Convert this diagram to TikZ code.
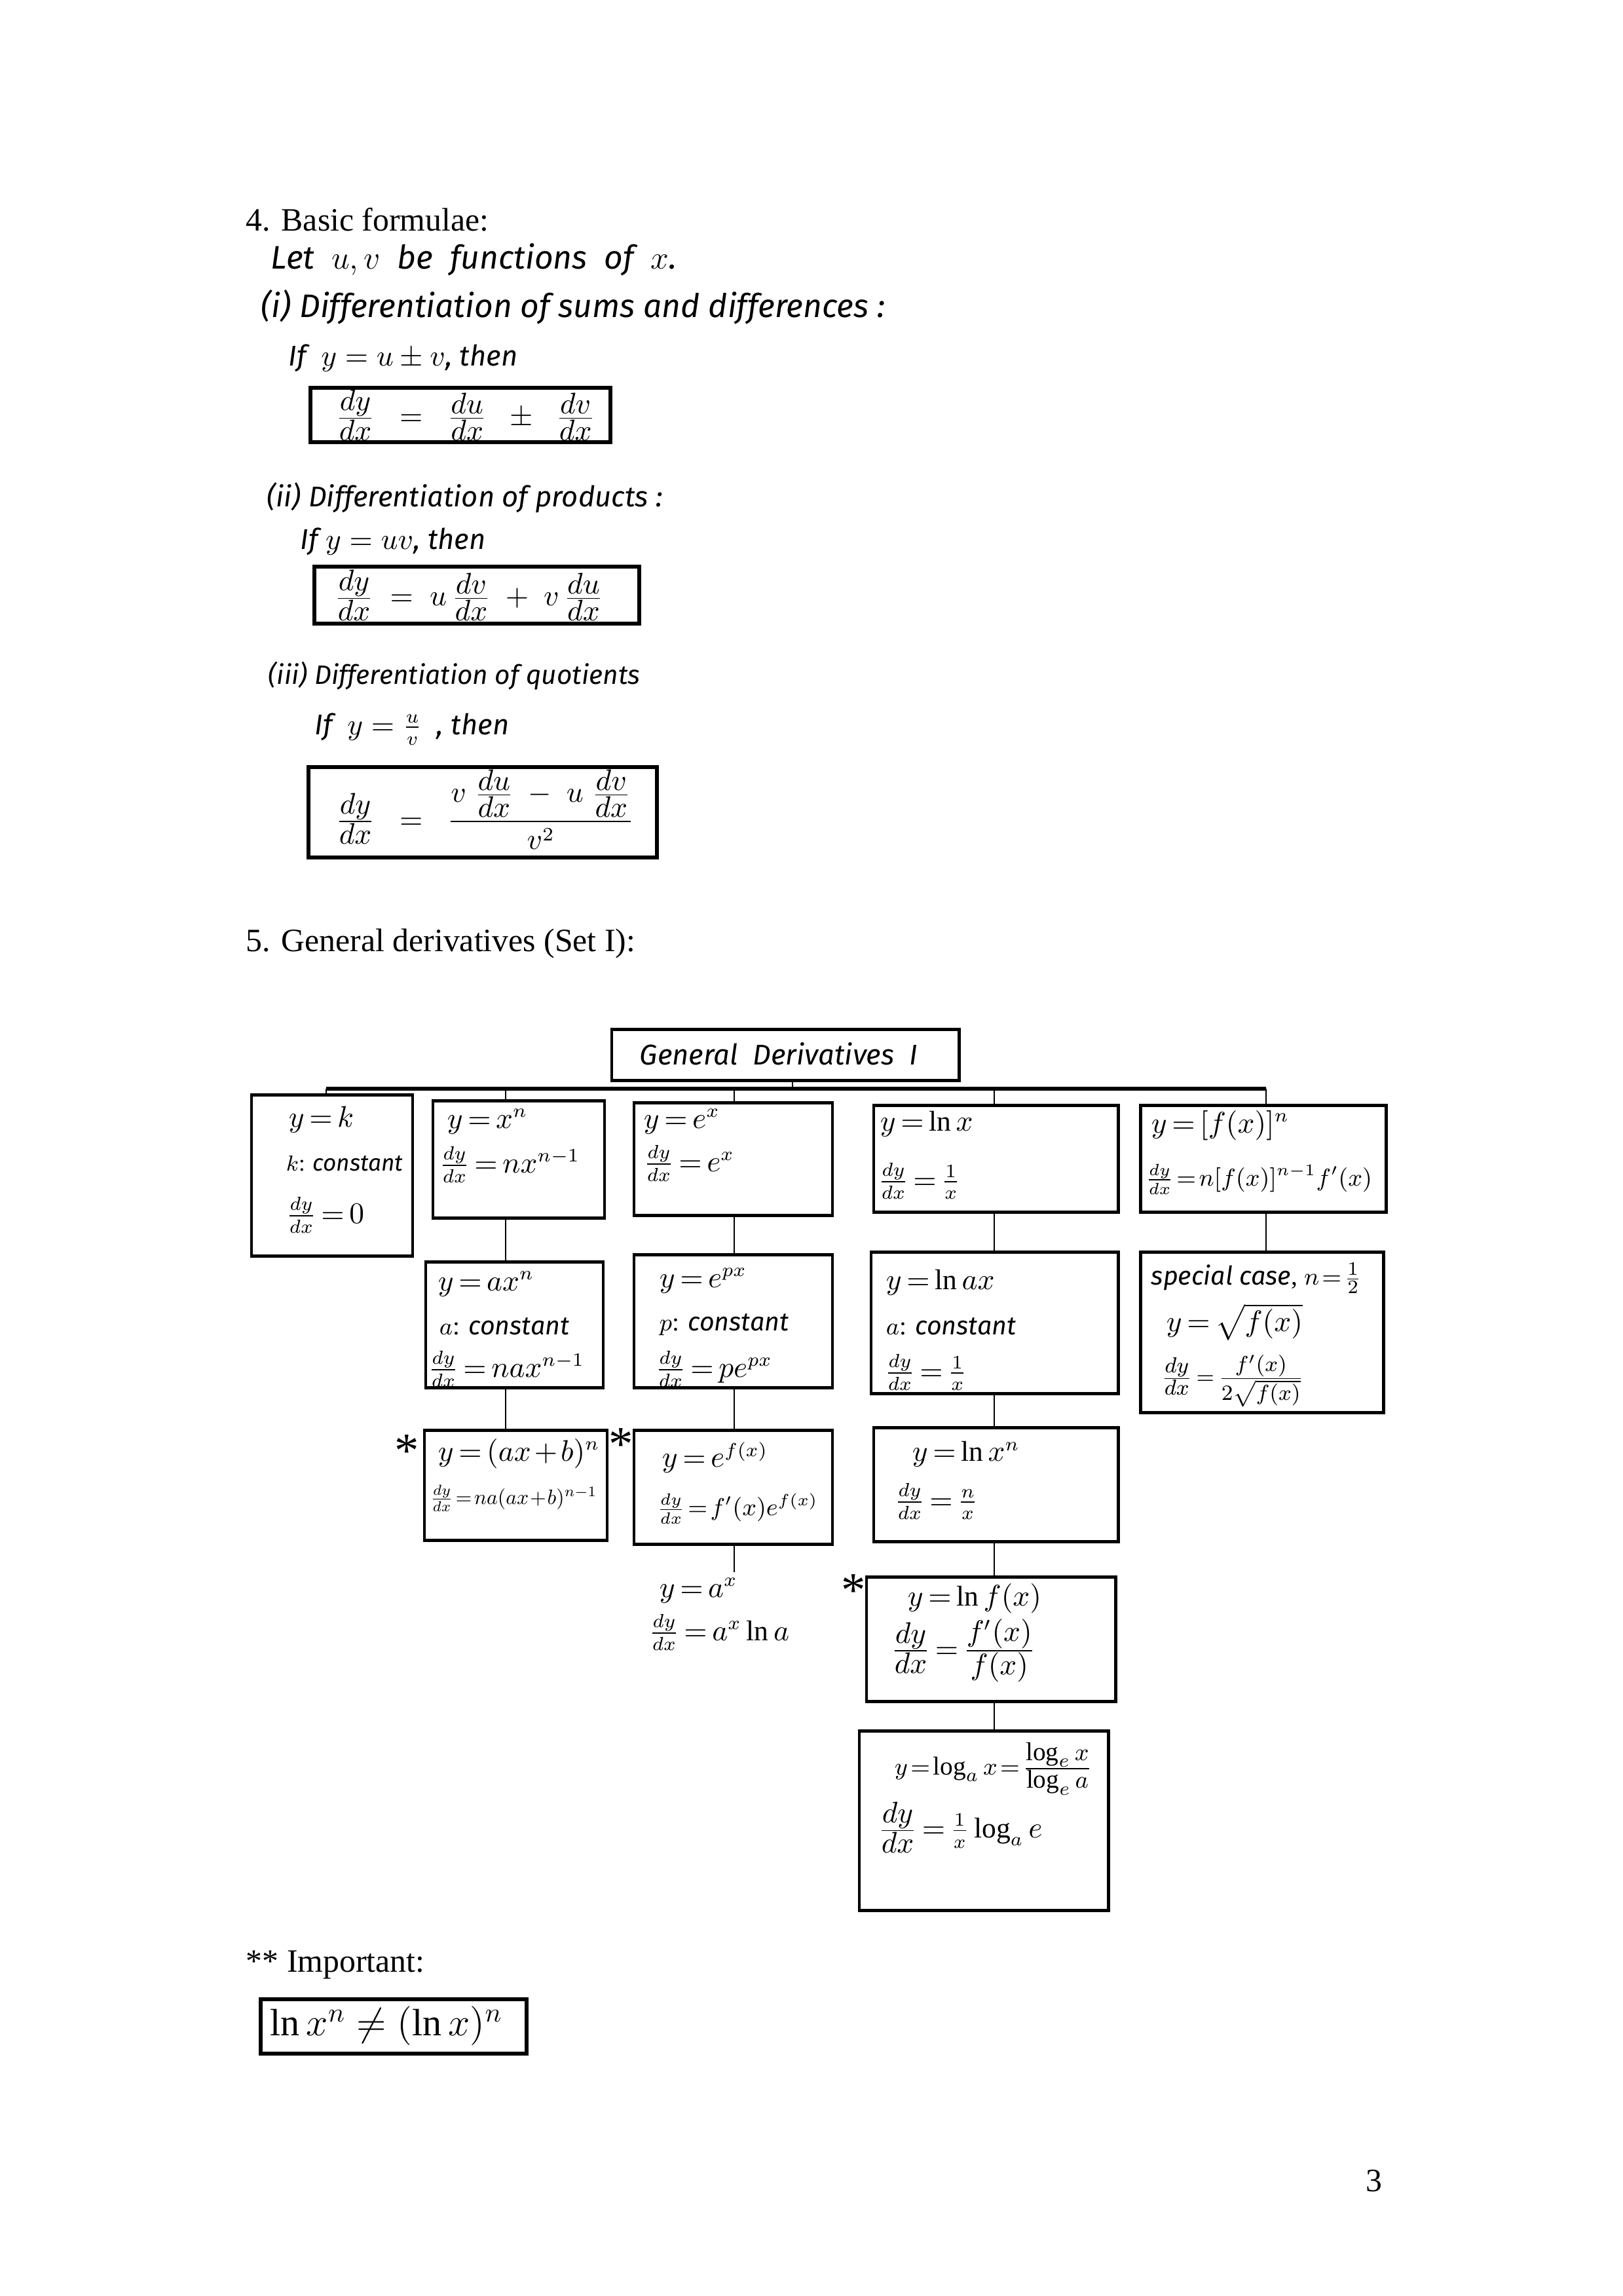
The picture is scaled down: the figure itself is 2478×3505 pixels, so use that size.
\documentclass[tikz,border=0pt]{standalone}
\usepackage{amsmath}
\usepackage{graphicx}
\usepackage{fontspec}
\setmainfont{Liberation Serif}
\newfontfamily\handfont{Fira Sans}
\usetikzlibrary{fit}
\newcommand\hw[1]{{\handfont\itshape #1}}
\newcommand\hf[2]{\frac{\textstyle #1}{\textstyle #2}}
\newcommand\tightA{\thickmuskip=3mu\relax\medmuskip=2mu\relax}
\newcommand\tightB{\thickmuskip=2mu\relax\medmuskip=1mu\relax}
\newcommand\tightC{\thickmuskip=1mu\relax\medmuskip=0mu\relax}
\begin{document}
\begin{tikzpicture}[x=0.08475mm,y=-0.08475mm,
  typ/.style={anchor=west,inner sep=0pt,font=\fontsize{12}{15}\selectfont},
  hand/.style={anchor=west,inner sep=0pt,font=\handfont\itshape\fontsize{10.5}{13}\selectfont},
  frm/.style={anchor=west,inner sep=0pt,font=\fontsize{10.5}{13}\selectfont},
  dtx/.style={anchor=west,inner sep=0pt,font=\fontsize{10.5}{13}\selectfont\tightA},
  small/.style={font=\fontsize{9.5}{12}\selectfont\tightB},
  tiny/.style={font=\fontsize{8.5}{11}\selectfont\tightB},
  fbx/.style={draw,line width=1.3pt,inner sep=0pt},
  dbx/.style={draw,line width=1.2pt,inner sep=0pt},
  con/.style={line width=0.7pt},
  busl/.style={line width=1.5pt},
  astk/.style={inner sep=0pt,font=\fontsize{18}{18}\selectfont}]
\path[use as bounding box] (0,0) rectangle (2478,3505);

% ---------- Section 4 ----------
\node[typ] (h4) at (375,335) {4. Basic formulae:};
\node[hand,font=\handfont\itshape\fontsize{12}{15}\selectfont] (t1) at (413,396) {Let\ \ $u,v$\ \ be\ \ functions\ \ of\ \ $x$.};
\node[hand,font=\handfont\itshape\fontsize{12}{15}\selectfont] (t2) at (398,469) {(i) Differentiation of sums and differences :};
\node[hand] (t3) at (440,547) {If\ \ $y = u \pm v$, then};
\node[fbx,fit={(474,592) (932,675)}] (f1) {};
\node[frm] (e1) at (512,634) {$\hf{dy}{dx} \;\;=\;\; \hf{du}{dx} \;\;\pm\;\; \hf{dv}{dx}$};
\node[hand] (t4) at (407,760) {(ii) Differentiation of products :};
\node[hand] (t5) at (458,827) {If $y = uv$, then};
\node[fbx,fit={(480,865) (976,952)}] (f2) {};
\node[frm] (e2) at (510,909) {$\hf{dy}{dx} \;=\; u\,\hf{dv}{dx} \;+\; v\,\hf{du}{dx}$};
\node[hand,font=\handfont\itshape\fontsize{9.8}{12}\selectfont] (t6) at (409,1032) {(iii) Differentiation of quotients};
\node[hand] (t7) at (480,1113) {If\ \ $y = \frac{u}{v}$\ \ , then};
\node[fbx,fit={(471,1171) (1003,1309)}] (f3) {};
\node[frm] (e3) at (512,1236) {$\hf{dy}{dx} \;\;=\;\; \dfrac{v\;\hf{du}{dx} \;-\; u\;\hf{dv}{dx}}{v^2}$};

% ---------- Section 5 ----------
\node[typ] (h5) at (375,1441) {5. General derivatives (Set I):};

\node[dbx,fit={(934,1571) (1464,1649)}] (tt) {};
\node[hand] (ttx) at (976,1609) {General\ \ Derivatives\ \ I};

\node[dbx,fit={(384,1671) (630,1917)}] (b1) {};
\node[dbx,fit={(661,1680) (923,1859)}] (b2) {};
\node[dbx,fit={(968,1683) (1271,1855)}] (b3) {};
\node[dbx,fit={(1334,1687) (1707,1850)}] (b4) {};
\node[dbx,fit={(1741,1687) (2116,1850)}] (b5) {};
\node[dbx,fit={(650,1926) (921,2118)}] (b6) {};
\node[dbx,fit={(968,1915) (1271,2118)}] (b7) {};
\node[dbx,fit={(1330,1911) (1707,2127)}] (b8) {};
\node[dbx,fit={(1741,1911) (2112,2156)}] (b9) {};
\node[dbx,fit={(648,2183) (927,2351)}] (b10) {};
\node[dbx,fit={(968,2183) (1271,2357)}] (b11) {};
\node[dbx,fit={(1334,2179) (1707,2353)}] (b12) {};
\node[dbx,fit={(1323,2407) (1703,2597)}] (b13) {};
\node[dbx,fit={(1312,2642) (1692,2916)}] (b14) {};

% connectors
\coordinate (tx) at (1210,1662);
\coordinate (cA) at (498,1662);
\coordinate (cB) at (772,1662);
\coordinate (cC) at (1121,1662);
\coordinate (cD) at (1518,1662);
\coordinate (cE) at (1933,1662);
\coordinate (axtop) at (1121,2400);
\draw[busl] (cA) -- (cE);
\draw[con] (tt.south -| tx) -- (tx);
\draw[con] (cA) -- (b1.north -| cA);
\draw[con] (cB) -- (b2.north -| cB);
\draw[con] (b2.south -| cB) -- (b6.north -| cB);
\draw[con] (b6.south -| cB) -- (b10.north -| cB);
\draw[con] (cC) -- (b3.north -| cC);
\draw[con] (b3.south -| cC) -- (b7.north -| cC);
\draw[con] (b7.south -| cC) -- (b11.north -| cC);
\draw[con] (b11.south -| cC) -- (axtop);
\draw[con] (cD) -- (b4.north -| cD);
\draw[con] (b4.south -| cD) -- (b8.north -| cD);
\draw[con] (b8.south -| cD) -- (b12.north -| cD);
\draw[con] (b12.south -| cD) -- (b13.north -| cD);
\draw[con] (b13.south -| cD) -- (b14.north -| cD);
\draw[con] (cE) -- (b5.north -| cE);
\draw[con] (b5.south -| cE) -- (b9.north -| cE);

% box texts
\node[dtx] (b1a) at (440,1709) {$y = k$};
\node[dtx,tiny] (b1b) at (436,1776) {$k$: \hw{constant}};
\node[dtx] (b1c) at (436,1855) {$\frac{dy}{dx} = 0$};

\node[dtx] (b2a) at (682,1712) {$y = x^n$};
\node[dtx] (b2b) at (670,1778) {$\frac{dy}{dx} = nx^{n-1}$};

\node[dtx] (b3a) at (982,1712) {$y = e^x$};
\node[dtx] (b3b) at (982,1776) {$\frac{dy}{dx} = e^x$};

\node[dtx] (b4a) at (1343,1716) {$y = \ln x$};
\node[dtx] (b4b) at (1340,1803) {$\frac{dy}{dx} = \frac{1}{x}$};

\node[dtx] (b5a) at (1757,1718) {$y = [f(x)]^n$};
\node[dtx,font=\fontsize{9}{11}\selectfont\tightB] (b5b) at (1748,1800) {$\frac{dy}{dx} = n[f(x)]^{n-1} f'(x)$};

\node[dtx] (b6a) at (668,1960) {$y = ax^n$};
\node[dtx,small] (b6b) at (670,2025) {$a$: \hw{constant}};
\node[dtx] (b6c) at (653,2090) {$\frac{dy}{dx} = nax^{n-1}$};

\node[dtx] (b7a) at (1006,1955) {$y = e^{px}$};
\node[dtx,small] (b7b) at (1006,2022) {$p$: \hw{constant}};
\node[dtx] (b7c) at (1000,2090) {$\frac{dy}{dx} = pe^{px}$};

\node[dtx] (b8a) at (1352,1958) {$y = \ln ax$};
\node[dtx,small] (b8b) at (1352,2025) {$a$: \hw{constant}};
\node[dtx] (b8c) at (1350,2095) {$\frac{dy}{dx} = \frac{1}{x}$};

\node[dtx,small] (b9a) at (1757,1951) {\hw{special case}, $n = \frac{1}{2}$};
\node[dtx] (b9b) at (1780,2018) {$y = \sqrt{f(x)}$};
\node[dtx,font=\fontsize{8.5}{11}\selectfont\tightA] (b9c) at (1772,2108) {$\hf{dy}{dx} = \hf{f'(x)}{2\sqrt{f(x)}}$};

\node[dtx] (b10a) at (668,2219) {$y = (ax+b)^n$};
\node[dtx,font=\fontsize{10}{12}\selectfont\tightB] (b10b) at (656,2287) {\resizebox{21.6mm}{!}{$\frac{dy}{dx} = na(ax+b)^{n-1}$}};

\node[dtx] (b11a) at (1010,2225) {$y = e^{f(x)}$};
\node[dtx,font=\fontsize{9.2}{11}\selectfont\tightB] (b11b) at (1002,2303) {$\frac{dy}{dx} = f'(x)e^{f(x)}$};

\node[dtx] (b12a) at (1392,2220) {$y = \ln x^n$};
\node[dtx] (b12b) at (1365,2292) {$\frac{dy}{dx} = \frac{n}{x}$};

\node[dtx] (ax1) at (1006,2428) {$y = a^x$};
\node[dtx] (ax2) at (990,2492) {$\frac{dy}{dx} = a^x\ln a$};

\node[dtx] (b13a) at (1385,2440) {$y = \ln f(x)$};
\node[dtx] (b13b) at (1360,2520) {$\hf{dy}{dx} = \hf{f'(x)}{f(x)}$};

\node[dtx,font=\fontsize{9.5}{12}\selectfont\tightB] (b14a) at (1365,2700) {$y = \log_a x = \hf{\log_e x}{\log_e a}$};
\node[dtx] (b14b) at (1340,2790) {$\hf{dy}{dx} = \frac{1}{x}\log_a e$};

\node[astk] (s1) at (621,2215) {*};
\node[astk] (s2) at (948,2205) {*};
\node[astk] (s3) at (1303,2428) {*};

% ---------- Important ----------
\node[typ] (imp) at (375,2999) {** Important:};
\node[fbx,fit={(398,3052) (804,3135)}] (ib) {};
\node[frm,font=\fontsize{14}{16}\selectfont] (ie) at (412,3093) {$\ln x^n \neq (\ln x)^n$};

\node[typ] (pg) at (2085,3329) {3};
\end{tikzpicture}
\end{document}
